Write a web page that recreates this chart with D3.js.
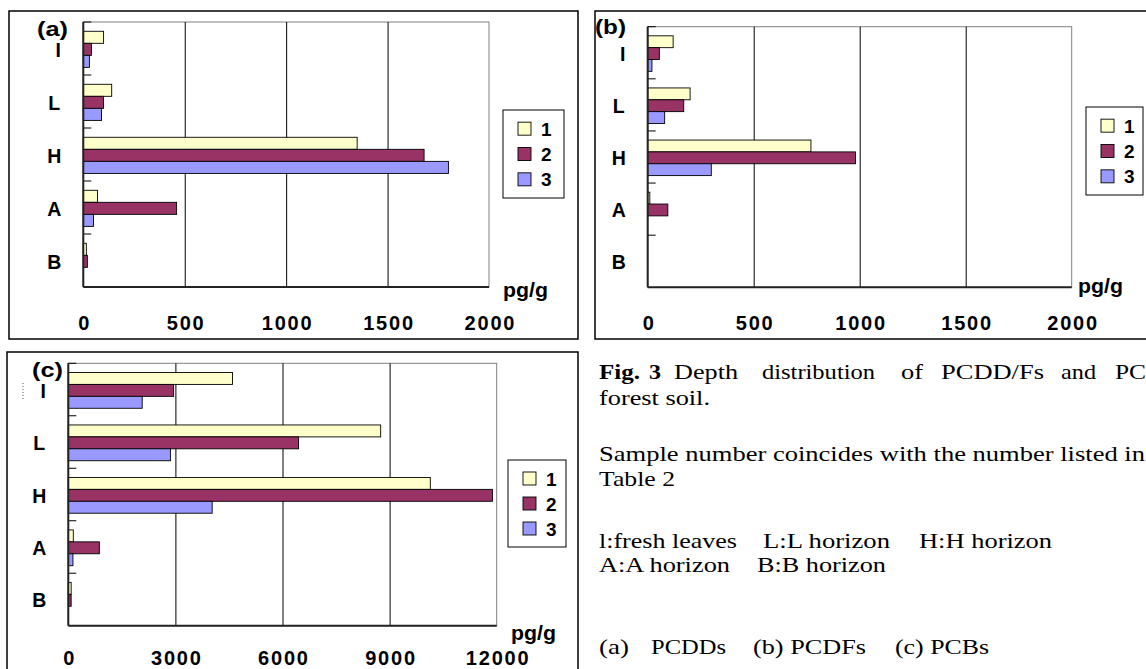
<!DOCTYPE html>
<html>
<head>
<meta charset="utf-8">
<script src="https://cdn.jsdelivr.net/npm/d3@7"></script>
<style>
  body { margin: 0; background: #fff; }
  svg { display: block; }
</style>
</head>
<body>
<script>
var width = 1146, height = 669;

// categories (soil layers) and samples
var categories = ["I", "L", "H", "A", "B"];
var samples = ["1", "2", "3"];
var colors = ["#ffffcc", "#993366", "#9999ff"];

// (a) PCDDs, pg/g
var pcdd1 = [100, 140, 1350, 70, 15];
var pcdd2 = [40, 100, 1680, 460, 20];
var pcdd3 = [30, 90, 1800, 50, 0];

// (b) PCDFs, pg/g
var pcdf1 = [120, 200, 770, 10, 0];
var pcdf2 = [55, 170, 980, 95, 0];
var pcdf3 = [20, 80, 300, 0, 0];

// (c) PCBs, pg/g
var pcb1 = [4600, 8750, 10140, 140, 80];
var pcb2 = [2950, 6450, 11880, 870, 80];
var pcb3 = [2070, 2860, 4030, 130, 0];

var ticksSmall = [0, 500, 1000, 1500, 2000];
var ticksPcb = [0, 3000, 6000, 9000, 12000];

var svg = d3.select("body").append("svg")
    .attr("width", width)
    .attr("height", height);

svg.append("rect").attr("width", width).attr("height", height).attr("fill", "#fff");

var sans = "'Liberation Sans', Arial, Helvetica, sans-serif";
var serif = "'Liberation Serif', 'Times New Roman', Times, serif";

// panel layout
var panels = [
  { tag: "(a)", series: [pcdd1, pcdd2, pcdd3], ticks: ticksSmall,
    frame: [9, 11, 578, 339], plot: [83.3, 22, 489, 287],
    tagPos: [37, 36], unitPos: [503, 297], tickY: 330, legend: [503, 110, 61, 88] },
  { tag: "(b)", series: [pcdf1, pcdf2, pcdf3], ticks: ticksSmall,
    frame: [595, 11, 1152, 339], plot: [647.7, 26.7, 1071.7, 287.3],
    tagPos: [595, 34], unitPos: [1078, 293], tickY: 330, legend: [1086, 107, 57, 88] },
  { tag: "(c)", series: [pcb1, pcb2, pcb3], ticks: ticksPcb,
    frame: [7, 352, 578, 680], plot: [68.3, 363.3, 496.7, 625.7],
    tagPos: [32, 377], unitPos: [511, 640], tickY: 665, legend: [508, 460, 58, 87] }
];

panels.forEach(function(p) {
  var g = svg.append("g");
  var px0 = p.plot[0], py0 = p.plot[1], px1 = p.plot[2], py1 = p.plot[3];

  var x = d3.scaleLinear().domain([0, p.ticks[p.ticks.length - 1]]).range([px0, px1]);
  var y0 = d3.scaleBand().domain(categories).range([py0, py1]);
  var y1 = d3.scaleBand().domain(samples).range([0, y0.bandwidth()])
      .paddingOuter(0.7).align(0.55);

  // outer frame
  g.append("rect")
      .attr("x", p.frame[0]).attr("y", p.frame[1])
      .attr("width", p.frame[2] - p.frame[0]).attr("height", p.frame[3] - p.frame[1])
      .attr("fill", "none").attr("stroke", "#000").attr("stroke-width", 1.5);

  // plot area border
  g.append("rect")
      .attr("x", px0).attr("y", py0)
      .attr("width", px1 - px0).attr("height", py1 - py0)
      .attr("fill", "#fff").attr("stroke", "#808080").attr("stroke-width", 1);

  // gridlines + tick labels
  var ax = g.append("g")
      .attr("transform", "translate(0," + py1 + ")")
      .call(d3.axisBottom(x).tickValues(p.ticks).tickFormat(d3.format("d"))
          .tickSizeInner(-(py1 - py0)).tickSizeOuter(0)
          .tickPadding(p.tickY - py1 - 14));
  ax.select(".domain").remove();
  ax.selectAll(".tick line")
      .attr("stroke", "#000")
      .attr("stroke-width", 1)
      .attr("display", function(d, i) { return (i === 0 || i === p.ticks.length - 1) ? "none" : null; });
  ax.selectAll(".tick text")
      .attr("fill", "#000")
      .attr("font-family", sans)
      .attr("font-weight", "bold")
      .attr("font-size", 20)
      .attr("letter-spacing", "1.8px")
      .attr("dx", "0.9px");

  // bars
  samples.forEach(function(s, si) {
    g.append("g").selectAll("rect")
        .data(categories.map(function(c, ci) { return { c: c, v: p.series[si][ci] }; })
              .filter(function(d) { return d.v > 0; }))
        .enter().append("rect")
        .attr("x", x(0))
        .attr("y", function(d) { return y0(d.c) + y1(s); })
        .attr("width", function(d) { return x(d.v) - x(0); })
        .attr("height", y1.bandwidth())
        .attr("fill", colors[si])
        .attr("stroke", "#000")
        .attr("stroke-width", 0.9);
  });

  // category tick marks (inside)
  g.append("g").selectAll("line")
      .data(categories)
      .enter().append("line")
      .attr("x1", px0).attr("x2", px0 + 8)
      .attr("y1", function(c) { return y0(c); })
      .attr("y2", function(c) { return y0(c); })
      .attr("stroke", "#000").attr("stroke-width", 1);

  // axis lines
  g.append("line").attr("x1", px0).attr("x2", px0).attr("y1", py0).attr("y2", py1)
      .attr("stroke", "#222").attr("stroke-width", 2);
  g.append("line").attr("x1", px0).attr("x2", px1).attr("y1", py1).attr("y2", py1)
      .attr("stroke", "#222").attr("stroke-width", 2);

  // category labels
  g.append("g").selectAll("text")
      .data(categories)
      .enter().append("text")
      .attr("x", function(c) { return px0 - 29 + (c === "I" ? 4 : 0); })
      .attr("y", function(c) { return y0(c) + y0.bandwidth() / 2 + 8; })
      .attr("text-anchor", "middle")
      .attr("font-family", sans).attr("font-weight", "bold").attr("font-size", 19.5)
      .text(function(c) { return c; });

  // panel tag
  g.append("text")
      .attr("x", p.tagPos[0]).attr("y", p.tagPos[1])
      .attr("font-family", sans).attr("font-weight", "bold").attr("font-size", 21)
      .attr("textLength", 31).attr("lengthAdjust", "spacingAndGlyphs")
      .text(p.tag);

  // unit
  g.append("text")
      .attr("x", p.unitPos[0]).attr("y", p.unitPos[1])
      .attr("font-family", sans).attr("font-weight", "bold").attr("font-size", 20)
      .attr("textLength", 45).attr("lengthAdjust", "spacingAndGlyphs")
      .text("pg/g");

  // legend
  var lg = g.append("g").attr("transform", "translate(" + p.legend[0] + "," + p.legend[1] + ")");
  lg.append("rect")
      .attr("width", p.legend[2]).attr("height", p.legend[3])
      .attr("fill", "#fff").attr("stroke", "#000").attr("stroke-width", 1);
  var row = d3.scaleBand().domain(samples).range([6, p.legend[3] - 6]);
  lg.selectAll("rect.sw")
      .data(samples)
      .enter().append("rect")
      .attr("class", "sw")
      .attr("x", 15)
      .attr("y", function(s) { return row(s) + row.bandwidth() / 2 - 6.5; })
      .attr("width", 13).attr("height", 13)
      .attr("fill", function(s, i) { return colors[i]; })
      .attr("stroke", "#000").attr("stroke-width", 0.9);
  lg.selectAll("text")
      .data(samples)
      .enter().append("text")
      .attr("x", 38)
      .attr("y", function(s) { return row(s) + row.bandwidth() / 2 + 7; })
      .attr("font-family", sans).attr("font-weight", "bold").attr("font-size", 19)
      .text(function(s) { return s; });
});

// small dotted artifact left of panel (c)
svg.append("line")
    .attr("x1", 23).attr("x2", 23).attr("y1", 383).attr("y2", 400)
    .attr("stroke", "#555").attr("stroke-dasharray", "1,2");

// caption
var cap = svg.append("g").attr("font-family", serif).attr("font-size", 22).attr("fill", "#000");

function seg(x, y, txt, len, bold) {
  var t = cap.append("text").attr("x", x).attr("y", y).text(txt);
  if (len) t.attr("textLength", len).attr("lengthAdjust", "spacingAndGlyphs");
  if (bold) t.attr("font-weight", "bold");
  return t;
}

seg(599, 379, "Fig.", 41, true);
seg(649, 379, "3", 12, true);
seg(674, 379, "Depth", 64);
seg(762, 379, "distribution", 113);
seg(901, 379, "of", 22);
seg(941, 379, "PCDD/Fs", 103);
seg(1061, 379, "and", 35);
seg(1115, 379, "PCBs in", 84);
seg(599, 405, "forest soil.", 111);

seg(599, 461, "Sample number coincides with the number listed in", 546);
seg(599, 486, "Table 2", 76);

seg(599, 548, "l:fresh leaves", 138);
seg(763, 548, "L:L horizon", 127);
seg(919, 548, "H:H horizon", 133);
seg(599, 572, "A:A horizon", 131);
seg(757, 572, "B:B horizon", 129);

seg(599, 654, "(a)", 30);
seg(651, 654, "PCDDs", 75);
seg(753, 654, "(b) PCDFs", 113);
seg(895, 654, "(c) PCBs", 94);
</script>
</body>
</html>
